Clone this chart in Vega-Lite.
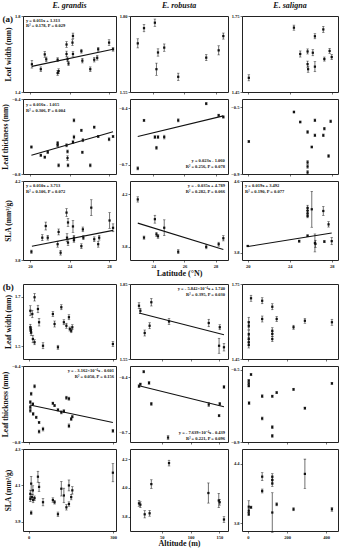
{
"$schema":"https://vega.github.io/schema/vega-lite/v6.json",
"padding":{"left":1,"top":1,"right":2,"bottom":0},
"background":"white",
"config":{
"view":{"stroke":"#222","strokeWidth":1},
"axis":{"grid":false,"domain":false,"tickSize":2,"tickColor":"#111","tickWidth":0.6,"labelFont":"Liberation Serif","labelFontSize":4.5,"labelFontWeight":"bold","labelColor":"#111","labelPadding":1,"labelOverlap":false,"labelBound":false,"titleFont":"Liberation Serif","titleFontSize":7.5,"titleFontWeight":"bold","titleColor":"#111","titlePadding":2},
"title":{"font":"Liberation Serif","fontSize":8,"fontStyle":"italic","fontWeight":"bold","offset":3,"color":"#111"},
"text":{"font":"Liberation Serif","fontWeight":"bold","fontSize":4.5,"color":"#111"}
},
"datasets":{
"gA1":[{"x":20.2,"v":1.546,"e":0.02},{"x":21.1,"v":1.52,"e":0.012},{"x":21.5,"v":1.598,"e":0.015},{"x":21.65,"v":1.572,"e":0.012},{"x":22.8,"v":1.5,"e":0.012},{"x":22.9,"v":1.51,"e":0.012},{"x":22.8,"v":1.57,"e":0.01},{"x":23.7,"v":1.65,"e":0.015},{"x":23.7,"v":1.6,"e":0.015},{"x":23.8,"v":1.572,"e":0.012},{"x":23.9,"v":1.55,"e":0.01},{"x":24.3,"v":1.66,"e":0.015},{"x":24.35,"v":1.695,"e":0.015},{"x":24.35,"v":1.6,"e":0.012},{"x":25.2,"v":1.615,"e":0.01},{"x":25.3,"v":1.565,"e":0.012},{"x":26.1,"v":1.52,"e":0.012},{"x":26.5,"v":1.57,"e":0.012},{"x":26.8,"v":1.58,"e":0.012},{"x":26.9,"v":1.625,"e":0.01},{"x":28.0,"v":1.66,"e":0.015},{"x":28.4,"v":1.625,"e":0.01}],
"rA1":[{"x":23.0,"v":1.71,"e":0.015},{"x":23.4,"v":1.76,"e":0.012},{"x":24.1,"v":1.778,"e":0.012},{"x":24.2,"v":1.625,"e":0.02},{"x":24.3,"v":1.68,"e":0.012},{"x":24.7,"v":1.696,"e":0.012},{"x":25.6,"v":1.6,"e":0.012},{"x":27.4,"v":1.663,"e":0.01},{"x":28.2,"v":1.687,"e":0.015},{"x":28.5,"v":1.734,"e":0.01}],
"sA1":[{"x":20.1,"v":1.506,"e":0.012},{"x":24.4,"v":1.704,"e":0.01},{"x":25.0,"v":1.6,"e":0.012},{"x":25.7,"v":1.61,"e":0.01},{"x":25.7,"v":1.56,"e":0.012},{"x":25.75,"v":1.54,"e":0.012},{"x":26.2,"v":1.605,"e":0.012},{"x":26.4,"v":1.67,"e":0.01},{"x":26.4,"v":1.55,"e":0.02},{"x":27.2,"v":1.697,"e":0.012},{"x":27.3,"v":1.58,"e":0.008},{"x":27.8,"v":1.612,"e":0.01},{"x":28.0,"v":1.588,"e":0.01}],
"gA2":[{"x":20.15,"v":-0.656,"e":0.006},{"x":21.1,"v":-0.7,"e":0.006},{"x":21.5,"v":-0.71,"e":0.006},{"x":21.8,"v":-0.684,"e":0.006},{"x":22.8,"v":-0.635,"e":0.008},{"x":22.8,"v":-0.647,"e":0.006},{"x":22.9,"v":-0.754,"e":0.008},{"x":23.7,"v":-0.647,"e":0.008},{"x":23.8,"v":-0.68,"e":0.008},{"x":23.8,"v":-0.715,"e":0.012},{"x":23.85,"v":-0.754,"e":0.008},{"x":24.35,"v":-0.63,"e":0.008},{"x":24.45,"v":-0.603,"e":0.01},{"x":24.45,"v":-0.514,"e":0.008},{"x":25.2,"v":-0.567,"e":0.006},{"x":25.3,"v":-0.684,"e":0.006},{"x":25.35,"v":-0.62,"e":0.008},{"x":26.1,"v":-0.754,"e":0.008},{"x":26.5,"v":-0.55,"e":0.006},{"x":26.9,"v":-0.6,"e":0.006},{"x":28.0,"v":-0.615,"e":0.008},{"x":28.4,"v":-0.6,"e":0.006}],
"rA2":[{"x":23.0,"v":-0.72,"e":0.008},{"x":23.4,"v":-0.464,"e":0.006},{"x":24.1,"v":-0.553,"e":0.008},{"x":24.2,"v":-0.61,"e":0.008},{"x":24.3,"v":-0.553,"e":0.008},{"x":24.7,"v":-0.553,"e":0.01},{"x":25.6,"v":-0.464,"e":0.008},{"x":27.4,"v":-0.375,"e":0.006},{"x":28.2,"v":-0.437,"e":0.006},{"x":28.5,"v":-0.446,"e":0.006}],
"sA2":[{"x":20.1,"v":-0.705,"e":0.006},{"x":24.4,"v":-0.528,"e":0.006},{"x":25.0,"v":-0.588,"e":0.006},{"x":25.7,"v":-0.648,"e":0.008},{"x":25.7,"v":-0.83,"e":0.01},{"x":25.7,"v":-0.855,"e":0.01},{"x":25.7,"v":-0.89,"e":0.01},{"x":26.1,"v":-0.738,"e":0.006},{"x":26.4,"v":-0.578,"e":0.008},{"x":26.4,"v":-0.668,"e":0.008},{"x":27.2,"v":-0.668,"e":0.008},{"x":27.3,"v":-0.628,"e":0.008},{"x":27.7,"v":-0.792,"e":0.008},{"x":27.9,"v":-0.584,"e":0.008}],
"gA3":[{"x":20.15,"v":3.842,"e":0.008},{"x":21.25,"v":3.913,"e":0.015},{"x":21.6,"v":3.972,"e":0.02},{"x":21.8,"v":3.913,"e":0.012},{"x":22.8,"v":3.88,"e":0.015},{"x":22.9,"v":3.942,"e":0.015},{"x":23.1,"v":3.837,"e":0.012},{"x":23.7,"v":4.04,"e":0.02},{"x":23.75,"v":3.913,"e":0.02},{"x":23.85,"v":3.99,"e":0.02},{"x":23.85,"v":3.888,"e":0.015},{"x":24.35,"v":3.97,"e":0.03},{"x":24.45,"v":3.913,"e":0.012},{"x":24.45,"v":3.9,"e":0.01},{"x":25.2,"v":3.87,"e":0.012},{"x":25.35,"v":3.955,"e":0.012},{"x":25.4,"v":3.913,"e":0.01},{"x":26.2,"v":4.065,"e":0.04},{"x":26.5,"v":3.905,"e":0.012},{"x":26.9,"v":3.88,"e":0.015},{"x":27.0,"v":3.913,"e":0.012},{"x":28.05,"v":4.0,"e":0.04},{"x":28.4,"v":3.963,"e":0.02}],
"rA3":[{"x":23.0,"v":4.16,"e":0.02},{"x":23.4,"v":3.87,"e":0.012},{"x":24.1,"v":4.01,"e":0.03},{"x":24.2,"v":3.895,"e":0.015},{"x":24.3,"v":3.88,"e":0.015},{"x":24.7,"v":3.945,"e":0.06},{"x":25.6,"v":3.763,"e":0.015},{"x":27.4,"v":3.8,"e":0.015},{"x":28.2,"v":3.82,"e":0.015},{"x":28.5,"v":3.865,"e":0.02}],
"sA3":[{"x":20.0,"v":3.876,"e":0.008},{"x":24.9,"v":3.93,"e":0.012},{"x":25.7,"v":4.3,"e":0.03},{"x":25.7,"v":4.27,"e":0.03},{"x":25.7,"v":4.24,"e":0.03},{"x":25.7,"v":4.21,"e":0.02},{"x":25.7,"v":3.99,"e":0.01},{"x":26.1,"v":4.285,"e":0.2},{"x":26.4,"v":3.91,"e":0.1},{"x":26.45,"v":3.9,"e":0.04},{"x":27.2,"v":4.266,"e":0.05},{"x":27.3,"v":3.925,"e":0.012},{"x":27.7,"v":4.117,"e":0.03},{"x":28.0,"v":3.93,"e":0.04}],
"gB1":[{"x":6,"v":1.643,"e":0.02},{"x":6,"v":1.577,"e":0.012},{"x":7,"v":1.57,"e":0.01},{"x":8,"v":1.563,"e":0.012},{"x":9,"v":1.556,"e":0.012},{"x":13,"v":1.63,"e":0.015},{"x":15,"v":1.53,"e":0.015},{"x":21,"v":1.697,"e":0.015},{"x":21,"v":1.517,"e":0.01},{"x":33,"v":1.65,"e":0.015},{"x":37,"v":1.597,"e":0.015},{"x":51,"v":1.503,"e":0.012},{"x":86,"v":1.63,"e":0.01},{"x":92,"v":1.59,"e":0.012},{"x":104,"v":1.497,"e":0.008},{"x":116,"v":1.657,"e":0.01},{"x":125,"v":1.597,"e":0.01},{"x":134,"v":1.583,"e":0.01},{"x":143,"v":1.617,"e":0.01},{"x":146,"v":1.57,"e":0.008},{"x":151,"v":1.563,"e":0.008},{"x":155,"v":1.577,"e":0.01},{"x":299,"v":1.51,"e":0.01}],
"rB1":[{"x":10.6,"v":1.763,"e":0.012},{"x":13,"v":1.743,"e":0.01},{"x":20.5,"v":1.654,"e":0.012},{"x":29,"v":1.683,"e":0.012},{"x":32,"v":1.777,"e":0.015},{"x":62.7,"v":1.7,"e":0.012},{"x":131.6,"v":1.694,"e":0.015},{"x":150.7,"v":1.677,"e":0.01},{"x":149.5,"v":1.603,"e":0.03},{"x":158,"v":1.597,"e":0.015}],
"sB1":[{"x":4.5,"v":1.597,"e":0.02},{"x":4.5,"v":1.583,"e":0.015},{"x":4.5,"v":1.55,"e":0.015},{"x":4.5,"v":1.53,"e":0.015},{"x":4.5,"v":1.517,"e":0.012},{"x":4.5,"v":1.506,"e":0.012},{"x":16,"v":1.693,"e":0.012},{"x":73,"v":1.683,"e":0.012},{"x":73,"v":1.61,"e":0.012},{"x":124.6,"v":1.659,"e":0.012},{"x":124.6,"v":1.563,"e":0.012},{"x":124.6,"v":1.55,"e":0.01},{"x":124.6,"v":1.53,"e":0.01},{"x":147,"v":1.61,"e":0.01},{"x":233,"v":1.577,"e":0.008},{"x":291,"v":1.603,"e":0.01},{"x":429,"v":1.597,"e":0.012}],
"gB2":[{"x":6,"v":-0.59,"e":0.008},{"x":6,"v":-0.617,"e":0.008},{"x":6,"v":-0.635,"e":0.008},{"x":9,"v":-0.546,"e":0.008},{"x":15,"v":-0.6,"e":0.006},{"x":16,"v":-0.652,"e":0.008},{"x":21,"v":-0.507,"e":0.008},{"x":27,"v":-0.67,"e":0.006},{"x":37,"v":-0.697,"e":0.006},{"x":37,"v":-0.745,"e":0.008},{"x":51,"v":-0.732,"e":0.01},{"x":86,"v":-0.596,"e":0.006},{"x":92,"v":-0.608,"e":0.006},{"x":104,"v":-0.631,"e":0.006},{"x":116,"v":-0.644,"e":0.008},{"x":125,"v":-0.638,"e":0.008},{"x":134,"v":-0.567,"e":0.008},{"x":143,"v":-0.572,"e":0.008},{"x":143,"v":-0.715,"e":0.01},{"x":151,"v":-0.679,"e":0.008},{"x":155,"v":-0.667,"e":0.006},{"x":299,"v":-0.741,"e":0.008}],
"rB2":[{"x":10.6,"v":-0.449,"e":0.008},{"x":13,"v":-0.438,"e":0.006},{"x":18.8,"v":-0.371,"e":0.006},{"x":28,"v":-0.431,"e":0.008},{"x":32,"v":-0.544,"e":0.008},{"x":61,"v":-0.726,"e":0.01},{"x":131.6,"v":-0.548,"e":0.01},{"x":150.7,"v":-0.544,"e":0.008},{"x":149.5,"v":-0.608,"e":0.006},{"x":158,"v":-0.453,"e":0.008}],
"sB2":[{"x":4.5,"v":-0.561,"e":0.006},{"x":4.5,"v":-0.576,"e":0.006},{"x":4.5,"v":-0.59,"e":0.006},{"x":6,"v":-0.685,"e":0.008},{"x":16,"v":-0.527,"e":0.006},{"x":73,"v":-0.647,"e":0.008},{"x":73,"v":-0.77,"e":0.008},{"x":124.6,"v":-0.647,"e":0.006},{"x":124.6,"v":-0.818,"e":0.008},{"x":124.6,"v":-0.866,"e":0.008},{"x":147,"v":-0.627,"e":0.006},{"x":233,"v":-0.609,"e":0.006},{"x":291,"v":-0.713,"e":0.006},{"x":429,"v":-0.576,"e":0.006}],
"gB3":[{"x":6,"v":4.054,"e":0.02},{"x":6,"v":4.026,"e":0.015},{"x":9,"v":4.11,"e":0.04},{"x":9,"v":3.95,"e":0.01},{"x":12,"v":4.036,"e":0.015},{"x":15,"v":4.073,"e":0.025},{"x":16,"v":4.02,"e":0.015},{"x":21,"v":4.03,"e":0.012},{"x":33,"v":4.148,"e":0.03},{"x":37,"v":4.092,"e":0.025},{"x":51,"v":4.008,"e":0.02},{"x":86,"v":4.02,"e":0.012},{"x":92,"v":4.008,"e":0.01},{"x":104,"v":3.942,"e":0.012},{"x":116,"v":4.082,"e":0.04},{"x":125,"v":4.045,"e":0.04},{"x":134,"v":3.98,"e":0.015},{"x":143,"v":4.1,"e":0.03},{"x":143,"v":3.998,"e":0.012},{"x":151,"v":4.036,"e":0.015},{"x":155,"v":4.073,"e":0.02},{"x":299,"v":4.17,"e":0.05}],
"rB3":[{"x":10.6,"v":3.892,"e":0.02},{"x":13,"v":3.883,"e":0.02},{"x":20.5,"v":3.816,"e":0.025},{"x":29,"v":3.823,"e":0.02},{"x":32,"v":4.026,"e":0.03},{"x":62.7,"v":4.172,"e":0.02},{"x":131,"v":3.964,"e":0.07},{"x":149,"v":3.912,"e":0.05},{"x":150.5,"v":3.9,"e":0.02},{"x":158,"v":3.78,"e":0.02}],
"sB3":[{"x":4.5,"v":3.966,"e":0.06},{"x":4.5,"v":3.925,"e":0.02},{"x":4.5,"v":3.89,"e":0.015},{"x":16,"v":3.96,"e":0.012},{"x":73,"v":4.27,"e":0.04},{"x":73,"v":4.125,"e":0.02},{"x":124.6,"v":4.27,"e":0.03},{"x":124.6,"v":4.236,"e":0.03},{"x":124.6,"v":4.2,"e":0.03},{"x":124.6,"v":3.907,"e":0.2},{"x":147,"v":3.99,"e":0.015},{"x":233,"v":3.94,"e":0.015},{"x":291,"v":4.298,"e":0.15},{"x":429,"v":3.94,"e":0.02}]
},
"bounds":"flush",
"columns":3,
"spacing":{"row":7,"column":14},
"concat":[
{"title":"E. grandis","width":93,"height":76,"layer":[
{"data":{"name":"gA1"},"mark":{"type":"errorbar","ticks":{"size":2.5,"thickness":0.6,"color":"#111"},"rule":{"strokeWidth":0.6,"color":"#111"}},"encoding":{
"x":{"field":"x","type":"quantitative","title":null,"scale":{"domain":[19.3,28.7],"nice":false,"zero":false},"axis":{"values":[20,22,24,26,28],"labels":false,"title":null}},
"y":{"field":"v","type":"quantitative","title":"Leaf width (mm)","scale":{"domain":[1.4,1.8],"nice":false,"zero":false},"axis":{"values":[1.4,1.5,1.6,1.7,1.8],"format":".1f","title":"Leaf width (mm)"}},
"yError":{"field":"e"}}},
{"data":{"name":"gA1"},"mark":{"type":"point","shape":"square","filled":true,"size":5,"color":"#111","opacity":1},"encoding":{"x":{"field":"x","type":"quantitative","title":null},"y":{"field":"v","type":"quantitative","title":"Leaf width (mm)"}}},
{"data":{"values":[{"x":20.2,"v":1.535},{"x":28.4,"v":1.625}]},"mark":{"type":"line","color":"#111","strokeWidth":1.1},"encoding":{"x":{"field":"x","type":"quantitative","title":null},"y":{"field":"v","type":"quantitative","title":"Leaf width (mm)"}}},
{"data":{"values":[{"t":"y = 0.011x + 1.313"}]},"mark":{"type":"text","align":"left","baseline":"middle"},"encoding":{"x":{"datum":19.6,"type":"quantitative"},"y":{"datum":1.775,"type":"quantitative"},"text":{"field":"t"}}},
{"data":{"values":[{"t":"R² = 0.178, P = 0.029"}]},"mark":{"type":"text","align":"left","baseline":"middle"},"encoding":{"x":{"datum":19.6,"type":"quantitative"},"y":{"datum":1.745,"type":"quantitative"},"text":{"field":"t"}}},
{"data":{"values":[{"t":"(a)"}]},"mark":{"type":"text","align":"left","baseline":"middle","fontSize":9},"encoding":{"x":{"datum":17.22,"type":"quantitative"},"y":{"datum":1.785,"type":"quantitative"},"text":{"field":"t"}}}
]},
{"title":"E. robusta","width":98,"height":76,"layer":[
{"data":{"name":"rA1"},"mark":{"type":"errorbar","ticks":{"size":2.5,"thickness":0.6,"color":"#111"},"rule":{"strokeWidth":0.6,"color":"#111"}},"encoding":{
"x":{"field":"x","type":"quantitative","title":null,"scale":{"domain":[22.5,28.8],"nice":false,"zero":false},"axis":{"values":[24,26,28],"labels":false,"title":null}},
"y":{"field":"v","type":"quantitative","title":null,"scale":{"domain":[1.55,1.8],"nice":false,"zero":false},"axis":{"values":[1.55,1.6,1.65,1.7,1.75,1.8],"format":".2f","title":null}},
"yError":{"field":"e"}}},
{"data":{"name":"rA1"},"mark":{"type":"point","shape":"square","filled":true,"size":5,"color":"#111","opacity":1},"encoding":{"x":{"field":"x","type":"quantitative","title":null},"y":{"field":"v","type":"quantitative","title":null}}}
]},
{"title":"E. saligna","width":96,"height":76,"layer":[
{"data":{"name":"sA1"},"mark":{"type":"errorbar","ticks":{"size":2.5,"thickness":0.6,"color":"#111"},"rule":{"strokeWidth":0.6,"color":"#111"}},"encoding":{
"x":{"field":"x","type":"quantitative","title":null,"scale":{"domain":[19.45,28.6],"nice":false,"zero":false},"axis":{"values":[20,22,24,26,28],"labels":false,"title":null}},
"y":{"field":"v","type":"quantitative","title":null,"scale":{"domain":[1.45,1.75],"nice":false,"zero":false},"axis":{"values":[1.45,1.5,1.55,1.6,1.65,1.7,1.75],"format":".2f","title":null}},
"yError":{"field":"e"}}},
{"data":{"name":"sA1"},"mark":{"type":"point","shape":"square","filled":true,"size":5,"color":"#111","opacity":1},"encoding":{"x":{"field":"x","type":"quantitative","title":null},"y":{"field":"v","type":"quantitative","title":null}}}
]},
{"width":93,"height":75,"layer":[
{"data":{"name":"gA2"},"mark":{"type":"errorbar","ticks":{"size":2.5,"thickness":0.6,"color":"#111"},"rule":{"strokeWidth":0.6,"color":"#111"}},"encoding":{
"x":{"field":"x","type":"quantitative","title":null,"scale":{"domain":[19.3,28.7],"nice":false,"zero":false},"axis":{"values":[20,22,24,26,28],"labels":false,"title":null}},
"y":{"field":"v","type":"quantitative","title":"Leaf thickness (mm)","scale":{"domain":[-0.8,-0.4],"nice":false,"zero":false},"axis":{"values":[-0.8,-0.7,-0.6,-0.5,-0.4],"format":".1f","title":"Leaf thickness (mm)"}},
"yError":{"field":"e"}}},
{"data":{"name":"gA2"},"mark":{"type":"point","shape":"square","filled":true,"size":5,"color":"#111","opacity":1},"encoding":{"x":{"field":"x","type":"quantitative","title":null},"y":{"field":"v","type":"quantitative","title":"Leaf thickness (mm)"}}},
{"data":{"values":[{"x":20.15,"v":-0.7},{"x":28.4,"v":-0.575}]},"mark":{"type":"line","color":"#111","strokeWidth":1.1},"encoding":{"x":{"field":"x","type":"quantitative","title":null},"y":{"field":"v","type":"quantitative","title":"Leaf thickness (mm)"}}},
{"data":{"values":[{"t":"y = 0.016x - 1.015"}]},"mark":{"type":"text","align":"left","baseline":"middle"},"encoding":{"x":{"datum":19.6,"type":"quantitative"},"y":{"datum":-0.432,"type":"quantitative"},"text":{"field":"t"}}},
{"data":{"values":[{"t":"R² = 0.306, P = 0.004"}]},"mark":{"type":"text","align":"left","baseline":"middle"},"encoding":{"x":{"datum":19.6,"type":"quantitative"},"y":{"datum":-0.464,"type":"quantitative"},"text":{"field":"t"}}}
]},
{"width":98,"height":75,"layer":[
{"data":{"name":"rA2"},"mark":{"type":"errorbar","ticks":{"size":2.5,"thickness":0.6,"color":"#111"},"rule":{"strokeWidth":0.6,"color":"#111"}},"encoding":{
"x":{"field":"x","type":"quantitative","title":null,"scale":{"domain":[22.5,28.8],"nice":false,"zero":false},"axis":{"values":[24,26,28],"labels":false,"title":null}},
"y":{"field":"v","type":"quantitative","title":null,"scale":{"domain":[-0.75,-0.35],"nice":false,"zero":false},"axis":{"values":[-0.7,-0.6,-0.5,-0.4],"format":".1f","title":null}},
"yError":{"field":"e"}}},
{"data":{"name":"rA2"},"mark":{"type":"point","shape":"square","filled":true,"size":5,"color":"#111","opacity":1},"encoding":{"x":{"field":"x","type":"quantitative","title":null},"y":{"field":"v","type":"quantitative","title":null}}},
{"data":{"values":[{"x":23.0,"v":-0.55},{"x":28.5,"v":-0.44}]},"mark":{"type":"line","color":"#111","strokeWidth":1.1},"encoding":{"x":{"field":"x","type":"quantitative","title":null},"y":{"field":"v","type":"quantitative","title":null}}},
{"data":{"values":[{"t":"y = 0.023x - 1.060"}]},"mark":{"type":"text","align":"right","baseline":"middle"},"encoding":{"x":{"datum":28.6,"type":"quantitative"},"y":{"datum":-0.681,"type":"quantitative"},"text":{"field":"t"}}},
{"data":{"values":[{"t":"R² = 0.256, P = 0.078"}]},"mark":{"type":"text","align":"right","baseline":"middle"},"encoding":{"x":{"datum":28.6,"type":"quantitative"},"y":{"datum":-0.713,"type":"quantitative"},"text":{"field":"t"}}}
]},
{"width":96,"height":75,"layer":[
{"data":{"name":"sA2"},"mark":{"type":"errorbar","ticks":{"size":2.5,"thickness":0.6,"color":"#111"},"rule":{"strokeWidth":0.6,"color":"#111"}},"encoding":{
"x":{"field":"x","type":"quantitative","title":null,"scale":{"domain":[19.45,28.6],"nice":false,"zero":false},"axis":{"values":[20,22,24,26,28],"labels":false,"title":null}},
"y":{"field":"v","type":"quantitative","title":null,"scale":{"domain":[-0.9,-0.45],"nice":false,"zero":false},"axis":{"values":[-0.9,-0.8,-0.7,-0.6,-0.5],"format":".1f","title":null}},
"yError":{"field":"e"}}},
{"data":{"name":"sA2"},"mark":{"type":"point","shape":"square","filled":true,"size":5,"color":"#111","opacity":1},"encoding":{"x":{"field":"x","type":"quantitative","title":null},"y":{"field":"v","type":"quantitative","title":null}}}
]},
{"width":93,"height":79,"layer":[
{"data":{"name":"gA3"},"mark":{"type":"errorbar","ticks":{"size":2.5,"thickness":0.6,"color":"#111"},"rule":{"strokeWidth":0.6,"color":"#111"}},"encoding":{
"x":{"field":"x","type":"quantitative","title":null,"scale":{"domain":[19.3,28.7],"nice":false,"zero":false},"axis":{"values":[20,22,24,26,28],"title":null}},
"y":{"field":"v","type":"quantitative","title":"SLA (mm²/g)","scale":{"domain":[3.8,4.2],"nice":false,"zero":false},"axis":{"values":[3.8,3.9,4.0,4.1,4.2],"format":".1f","title":"SLA (mm²/g)"}},
"yError":{"field":"e"}}},
{"data":{"name":"gA3"},"mark":{"type":"point","shape":"square","filled":true,"size":5,"color":"#111","opacity":1},"encoding":{"x":{"field":"x","type":"quantitative","title":null},"y":{"field":"v","type":"quantitative","title":"SLA (mm²/g)"}}},
{"data":{"values":[{"x":20.2,"v":3.87},{"x":28.4,"v":3.95}]},"mark":{"type":"line","color":"#111","strokeWidth":1.1},"encoding":{"x":{"field":"x","type":"quantitative","title":null},"y":{"field":"v","type":"quantitative","title":"SLA (mm²/g)"}}},
{"data":{"values":[{"t":"y = 0.010x + 3.713"}]},"mark":{"type":"text","align":"left","baseline":"middle"},"encoding":{"x":{"datum":19.6,"type":"quantitative"},"y":{"datum":4.174,"type":"quantitative"},"text":{"field":"t"}}},
{"data":{"values":[{"t":"R² = 0.106, P = 0.072"}]},"mark":{"type":"text","align":"left","baseline":"middle"},"encoding":{"x":{"datum":19.6,"type":"quantitative"},"y":{"datum":4.144,"type":"quantitative"},"text":{"field":"t"}}}
]},
{"width":98,"height":79,"layer":[
{"data":{"name":"rA3"},"mark":{"type":"errorbar","ticks":{"size":2.5,"thickness":0.6,"color":"#111"},"rule":{"strokeWidth":0.6,"color":"#111"}},"encoding":{
"x":{"field":"x","type":"quantitative","title":"Latitude (°N)","scale":{"domain":[22.5,28.8],"nice":false,"zero":false},"axis":{"values":[24,26,28],"title":"Latitude (°N)","titleFontSize":8}},
"y":{"field":"v","type":"quantitative","title":null,"scale":{"domain":[3.7,4.3],"nice":false,"zero":false},"axis":{"values":[3.8,4.0,4.2],"format":".1f","title":null}},
"yError":{"field":"e"}}},
{"data":{"name":"rA3"},"mark":{"type":"point","shape":"square","filled":true,"size":5,"color":"#111","opacity":1},"encoding":{"x":{"field":"x","type":"quantitative","title":"Latitude (°N)"},"y":{"field":"v","type":"quantitative","title":null}}},
{"data":{"values":[{"x":23.0,"v":3.98},{"x":28.5,"v":3.78}]},"mark":{"type":"line","color":"#111","strokeWidth":1.1},"encoding":{"x":{"field":"x","type":"quantitative","title":"Latitude (°N)"},"y":{"field":"v","type":"quantitative","title":null}}},
{"data":{"values":[{"t":"y = - 0.035x + 4.789"}]},"mark":{"type":"text","align":"right","baseline":"middle"},"encoding":{"x":{"datum":28.6,"type":"quantitative"},"y":{"datum":4.262,"type":"quantitative"},"text":{"field":"t"}}},
{"data":{"values":[{"t":"R² = 0.282, P = 0.066"}]},"mark":{"type":"text","align":"right","baseline":"middle"},"encoding":{"x":{"datum":28.6,"type":"quantitative"},"y":{"datum":4.215,"type":"quantitative"},"text":{"field":"t"}}}
]},
{"width":96,"height":79,"layer":[
{"data":{"name":"sA3"},"mark":{"type":"errorbar","ticks":{"size":2.5,"thickness":0.6,"color":"#111"},"rule":{"strokeWidth":0.6,"color":"#111"}},"encoding":{
"x":{"field":"x","type":"quantitative","title":null,"scale":{"domain":[19.45,28.6],"nice":false,"zero":false},"axis":{"values":[20,22,24,26,28],"title":null}},
"y":{"field":"v","type":"quantitative","title":null,"scale":{"domain":[3.72,4.6],"nice":false,"zero":false},"axis":{"values":[3.8,4.0,4.2,4.4,4.6],"format":".1f","title":null}},
"yError":{"field":"e"}}},
{"data":{"name":"sA3"},"mark":{"type":"point","shape":"square","filled":true,"size":5,"color":"#111","opacity":1},"encoding":{"x":{"field":"x","type":"quantitative","title":null},"y":{"field":"v","type":"quantitative","title":null}}},
{"data":{"values":[{"x":20.0,"v":3.87},{"x":28.0,"v":4.02}]},"mark":{"type":"line","color":"#111","strokeWidth":1.1},"encoding":{"x":{"field":"x","type":"quantitative","title":null},"y":{"field":"v","type":"quantitative","title":null}}},
{"data":{"values":[{"t":"y = 0.019x + 3.492"}]},"mark":{"type":"text","align":"left","baseline":"middle"},"encoding":{"x":{"datum":19.73,"type":"quantitative"},"y":{"datum":4.544,"type":"quantitative"},"text":{"field":"t"}}},
{"data":{"values":[{"t":"R² = 0.190, P = 0.077"}]},"mark":{"type":"text","align":"left","baseline":"middle"},"encoding":{"x":{"datum":19.73,"type":"quantitative"},"y":{"datum":4.476,"type":"quantitative"},"text":{"field":"t"}}}
]},
{"width":93,"height":10,"view":{"stroke":null},"data":{"values":[{"t":""}]},"mark":{"type":"text"},"encoding":{"text":{"field":"t"}}},
{"width":98,"height":10,"view":{"stroke":null},"data":{"values":[{"t":""}]},"mark":{"type":"text"},"encoding":{"text":{"field":"t"}}},
{"width":96,"height":10,"view":{"stroke":null},"data":{"values":[{"t":""}]},"mark":{"type":"text"},"encoding":{"text":{"field":"t"}}},
{"width":93,"height":75,"layer":[
{"data":{"name":"gB1"},"mark":{"type":"errorbar","ticks":{"size":2.5,"thickness":0.6,"color":"#111"},"rule":{"strokeWidth":0.6,"color":"#111"}},"encoding":{
"x":{"field":"x","type":"quantitative","title":null,"scale":{"domain":[-20,310],"nice":false,"zero":false},"axis":{"values":[0,100,200,300],"labels":false,"title":null}},
"y":{"field":"v","type":"quantitative","title":"Leaf width (mm)","scale":{"domain":[1.45,1.75],"nice":false,"zero":false},"axis":{"values":[1.5,1.6,1.7],"format":".1f","title":"Leaf width (mm)"}},
"yError":{"field":"e"}}},
{"data":{"name":"gB1"},"mark":{"type":"point","shape":"square","filled":true,"size":5,"color":"#111","opacity":1},"encoding":{"x":{"field":"x","type":"quantitative","title":null},"y":{"field":"v","type":"quantitative","title":"Leaf width (mm)"}}},
{"data":{"values":[{"t":"(b)"}]},"mark":{"type":"text","align":"left","baseline":"middle","fontSize":9},"encoding":{"x":{"datum":-92,"type":"quantitative"},"y":{"datum":1.738,"type":"quantitative"},"text":{"field":"t"}}}
]},
{"width":98,"height":75,"layer":[
{"data":{"name":"rB1"},"mark":{"type":"errorbar","ticks":{"size":2.5,"thickness":0.6,"color":"#111"},"rule":{"strokeWidth":0.6,"color":"#111"}},"encoding":{
"x":{"field":"x","type":"quantitative","title":null,"scale":{"domain":[-5,165],"nice":false,"zero":false},"axis":{"values":[50,100,150],"labels":false,"title":null}},
"y":{"field":"v","type":"quantitative","title":null,"scale":{"domain":[1.55,1.85],"nice":false,"zero":false},"axis":{"values":[1.55,1.6,1.65,1.7,1.75,1.8,1.85],"format":".2f","title":null}},
"yError":{"field":"e"}}},
{"data":{"name":"rB1"},"mark":{"type":"point","shape":"square","filled":true,"size":5,"color":"#111","opacity":1},"encoding":{"x":{"field":"x","type":"quantitative","title":null},"y":{"field":"v","type":"quantitative","title":null}}},
{"data":{"values":[{"x":10.6,"v":1.734},{"x":158,"v":1.647}]},"mark":{"type":"line","color":"#111","strokeWidth":1.1},"encoding":{"x":{"field":"x","type":"quantitative","title":null},"y":{"field":"v","type":"quantitative","title":null}}},
{"data":{"values":[{"t":"y = - 5.842×10⁻⁴x + 1.740"}]},"mark":{"type":"text","align":"right","baseline":"middle"},"encoding":{"x":{"datum":160,"type":"quantitative"},"y":{"datum":1.83,"type":"quantitative"},"text":{"field":"t"}}},
{"data":{"values":[{"t":"R² = 0.395, P = 0.030"}]},"mark":{"type":"text","align":"right","baseline":"middle"},"encoding":{"x":{"datum":160,"type":"quantitative"},"y":{"datum":1.806,"type":"quantitative"},"text":{"field":"t"}}}
]},
{"width":96,"height":75,"layer":[
{"data":{"name":"sB1"},"mark":{"type":"errorbar","ticks":{"size":2.5,"thickness":0.6,"color":"#111"},"rule":{"strokeWidth":0.6,"color":"#111"}},"encoding":{
"x":{"field":"x","type":"quantitative","title":null,"scale":{"domain":[-30,460],"nice":false,"zero":false},"axis":{"values":[0,200,400],"labels":false,"title":null}},
"y":{"field":"v","type":"quantitative","title":null,"scale":{"domain":[1.45,1.75],"nice":false,"zero":false},"axis":{"values":[1.45,1.5,1.55,1.6,1.65,1.7,1.75],"format":".2f","title":null}},
"yError":{"field":"e"}}},
{"data":{"name":"sB1"},"mark":{"type":"point","shape":"square","filled":true,"size":5,"color":"#111","opacity":1},"encoding":{"x":{"field":"x","type":"quantitative","title":null},"y":{"field":"v","type":"quantitative","title":null}}}
]},
{"width":93,"height":76,"layer":[
{"data":{"name":"gB2"},"mark":{"type":"errorbar","ticks":{"size":2.5,"thickness":0.6,"color":"#111"},"rule":{"strokeWidth":0.6,"color":"#111"}},"encoding":{
"x":{"field":"x","type":"quantitative","title":null,"scale":{"domain":[-20,310],"nice":false,"zero":false},"axis":{"values":[0,100,200,300],"labels":false,"title":null}},
"y":{"field":"v","type":"quantitative","title":"Leaf thickness (mm)","scale":{"domain":[-0.8,-0.4],"nice":false,"zero":false},"axis":{"values":[-0.8,-0.7,-0.6,-0.5,-0.4],"format":".1f","title":"Leaf thickness (mm)"}},
"yError":{"field":"e"}}},
{"data":{"name":"gB2"},"mark":{"type":"point","shape":"square","filled":true,"size":5,"color":"#111","opacity":1},"encoding":{"x":{"field":"x","type":"quantitative","title":null},"y":{"field":"v","type":"quantitative","title":"Leaf thickness (mm)"}}},
{"data":{"values":[{"x":5,"v":-0.605},{"x":299,"v":-0.697}]},"mark":{"type":"line","color":"#111","strokeWidth":1.1},"encoding":{"x":{"field":"x","type":"quantitative","title":null},"y":{"field":"v","type":"quantitative","title":"Leaf thickness (mm)"}}},
{"data":{"values":[{"t":"y = - 3.162×10⁻⁴x - 0.601"}]},"mark":{"type":"text","align":"right","baseline":"middle"},"encoding":{"x":{"datum":303,"type":"quantitative"},"y":{"datum":-0.427,"type":"quantitative"},"text":{"field":"t"}}},
{"data":{"values":[{"t":"R² = 0.050, P = 0.156"}]},"mark":{"type":"text","align":"right","baseline":"middle"},"encoding":{"x":{"datum":303,"type":"quantitative"},"y":{"datum":-0.459,"type":"quantitative"},"text":{"field":"t"}}}
]},
{"width":98,"height":76,"layer":[
{"data":{"name":"rB2"},"mark":{"type":"errorbar","ticks":{"size":2.5,"thickness":0.6,"color":"#111"},"rule":{"strokeWidth":0.6,"color":"#111"}},"encoding":{
"x":{"field":"x","type":"quantitative","title":null,"scale":{"domain":[-5,165],"nice":false,"zero":false},"axis":{"values":[50,100,150],"labels":false,"title":null}},
"y":{"field":"v","type":"quantitative","title":null,"scale":{"domain":[-0.75,-0.34],"nice":false,"zero":false},"axis":{"values":[-0.7,-0.6,-0.5,-0.4],"format":".1f","title":null}},
"yError":{"field":"e"}}},
{"data":{"name":"rB2"},"mark":{"type":"point","shape":"square","filled":true,"size":5,"color":"#111","opacity":1},"encoding":{"x":{"field":"x","type":"quantitative","title":null},"y":{"field":"v","type":"quantitative","title":null}}},
{"data":{"values":[{"x":10.6,"v":-0.447},{"x":158,"v":-0.56}]},"mark":{"type":"line","color":"#111","strokeWidth":1.1},"encoding":{"x":{"field":"x","type":"quantitative","title":null},"y":{"field":"v","type":"quantitative","title":null}}},
{"data":{"values":[{"t":"y = - 7.639×10⁻⁴x - 0.439"}]},"mark":{"type":"text","align":"right","baseline":"middle"},"encoding":{"x":{"datum":160,"type":"quantitative"},"y":{"datum":-0.704,"type":"quantitative"},"text":{"field":"t"}}},
{"data":{"values":[{"t":"R² = 0.221, P = 0.096"}]},"mark":{"type":"text","align":"right","baseline":"middle"},"encoding":{"x":{"datum":160,"type":"quantitative"},"y":{"datum":-0.735,"type":"quantitative"},"text":{"field":"t"}}}
]},
{"width":96,"height":76,"layer":[
{"data":{"name":"sB2"},"mark":{"type":"errorbar","ticks":{"size":2.5,"thickness":0.6,"color":"#111"},"rule":{"strokeWidth":0.6,"color":"#111"}},"encoding":{
"x":{"field":"x","type":"quantitative","title":null,"scale":{"domain":[-30,460],"nice":false,"zero":false},"axis":{"values":[0,200,400],"labels":false,"title":null}},
"y":{"field":"v","type":"quantitative","title":null,"scale":{"domain":[-0.9,-0.48],"nice":false,"zero":false},"axis":{"values":[-0.9,-0.8,-0.7,-0.6,-0.5],"format":".1f","title":null}},
"yError":{"field":"e"}}},
{"data":{"name":"sB2"},"mark":{"type":"point","shape":"square","filled":true,"size":5,"color":"#111","opacity":1},"encoding":{"x":{"field":"x","type":"quantitative","title":null},"y":{"field":"v","type":"quantitative","title":null}}}
]},
{"width":93,"height":82,"layer":[
{"data":{"name":"gB3"},"mark":{"type":"errorbar","ticks":{"size":2.5,"thickness":0.6,"color":"#111"},"rule":{"strokeWidth":0.6,"color":"#111"}},"encoding":{
"x":{"field":"x","type":"quantitative","title":null,"scale":{"domain":[-20,310],"nice":false,"zero":false},"axis":{"values":[0,100,200,300],"title":null}},
"y":{"field":"v","type":"quantitative","title":"SLA (mm²/g)","scale":{"domain":[3.85,4.3],"nice":false,"zero":false},"axis":{"values":[3.9,4.0,4.1,4.2,4.3],"format":".1f","title":"SLA (mm²/g)"}},
"yError":{"field":"e"}}},
{"data":{"name":"gB3"},"mark":{"type":"point","shape":"square","filled":true,"size":5,"color":"#111","opacity":1},"encoding":{"x":{"field":"x","type":"quantitative","title":null},"y":{"field":"v","type":"quantitative","title":"SLA (mm²/g)"}}}
]},
{"width":98,"height":82,"layer":[
{"data":{"name":"rB3"},"mark":{"type":"errorbar","ticks":{"size":2.5,"thickness":0.6,"color":"#111"},"rule":{"strokeWidth":0.6,"color":"#111"}},"encoding":{
"x":{"field":"x","type":"quantitative","title":"Altitude (m)","scale":{"domain":[-5,165],"nice":false,"zero":false},"axis":{"values":[50,100,150],"title":"Altitude (m)","titleFontSize":8,"titlePadding":1}},
"y":{"field":"v","type":"quantitative","title":null,"scale":{"domain":[3.7,4.27],"nice":false,"zero":false},"axis":{"values":[3.8,4.0,4.2],"format":".1f","title":null}},
"yError":{"field":"e"}}},
{"data":{"name":"rB3"},"mark":{"type":"point","shape":"square","filled":true,"size":5,"color":"#111","opacity":1},"encoding":{"x":{"field":"x","type":"quantitative","title":"Altitude (m)"},"y":{"field":"v","type":"quantitative","title":null}}}
]},
{"width":96,"height":82,"layer":[
{"data":{"name":"sB3"},"mark":{"type":"errorbar","ticks":{"size":2.5,"thickness":0.6,"color":"#111"},"rule":{"strokeWidth":0.6,"color":"#111"}},"encoding":{
"x":{"field":"x","type":"quantitative","title":null,"scale":{"domain":[-30,460],"nice":false,"zero":false},"axis":{"values":[0,200,400],"title":null}},
"y":{"field":"v","type":"quantitative","title":null,"scale":{"domain":[3.72,4.55],"nice":false,"zero":false},"axis":{"values":[3.8,4.0,4.2,4.4],"format":".1f","title":null}},
"yError":{"field":"e"}}},
{"data":{"name":"sB3"},"mark":{"type":"point","shape":"square","filled":true,"size":5,"color":"#111","opacity":1},"encoding":{"x":{"field":"x","type":"quantitative","title":null},"y":{"field":"v","type":"quantitative","title":null}}}
]}
]
}
